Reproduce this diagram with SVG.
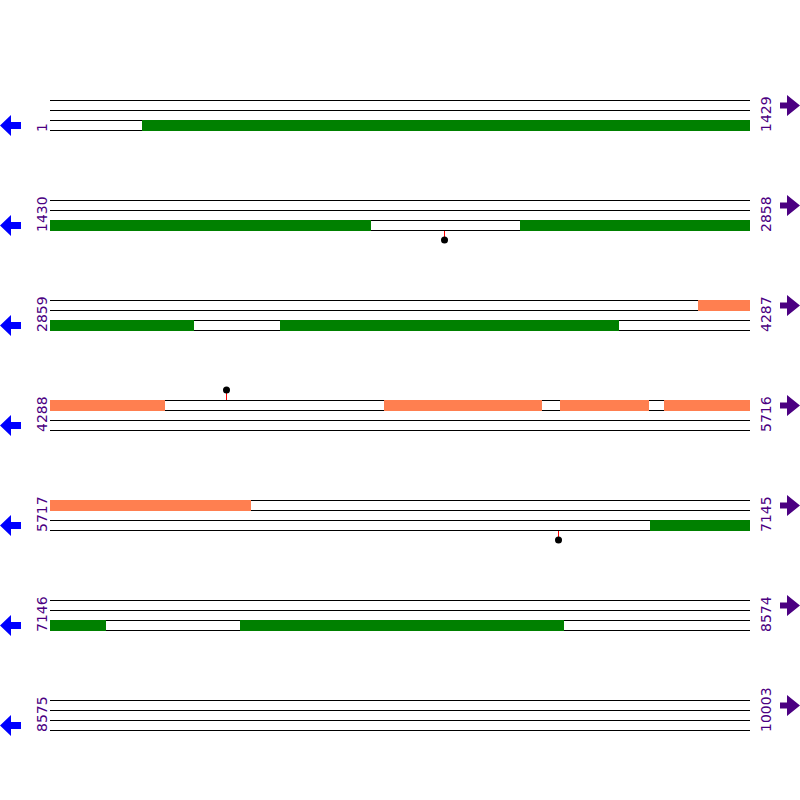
<svg xmlns="http://www.w3.org/2000/svg" width="800" height="800" viewBox="0 0 800 800">
<style>
.ln{stroke:#000;stroke-width:1;fill:none}
.g{fill:#008000}
.o{fill:#FF7F50}
.lbl{font-family:"DejaVu Sans",sans-serif;font-size:14px;fill:#4B0082}
.la{fill:#0000FF}
.ra{fill:#4B0082}
.stem{stroke:#FF0000;stroke-width:1}
</style>
<defs>
<g id="strands">
<line class="ln" x1="50" y1="0.5" x2="750" y2="0.5"/>
<line class="ln" x1="50" y1="10.5" x2="750" y2="10.5"/>
<line class="ln" x1="50" y1="20.5" x2="750" y2="20.5"/>
<line class="ln" x1="50" y1="30.5" x2="750" y2="30.5"/>
</g>
<polygon id="larrow" points="0,25.5 11,15 11,22 21,22 21,29 11,29 11,36"/>
<polygon id="rarrow" points="800,5.5 787,-5 787,2.5 780,2.5 780,8.5 787,8.5 787,16"/>
</defs>
<rect width="800" height="800" fill="#fff"/>

<g id="row1" transform="translate(0,100)">
<use href="#strands"/>
<rect class="g" x="142" y="20" width="608" height="11"/>
<use href="#larrow" class="la"/><use href="#rarrow" class="ra"/>
<text class="lbl" transform="translate(46.5,32) rotate(-90)">1</text>
<text class="lbl" transform="translate(770.5,32) rotate(-90)">1429</text>
</g>

<g id="row2" transform="translate(0,200)">
<use href="#strands"/>
<rect class="g" x="50" y="20" width="321" height="11"/>
<rect class="g" x="520" y="20" width="230" height="11"/>
<line class="stem" x1="444.5" y1="31" x2="444.5" y2="38"/>
<circle cx="444.5" cy="40" r="3.5" fill="#000"/>
<use href="#larrow" class="la"/><use href="#rarrow" class="ra"/>
<text class="lbl" transform="translate(46.5,32) rotate(-90)">1430</text>
<text class="lbl" transform="translate(770.5,32) rotate(-90)">2858</text>
</g>

<g id="row3" transform="translate(0,300)">
<use href="#strands"/>
<rect class="o" x="698" y="0" width="52" height="11"/>
<rect class="g" x="50" y="20" width="144" height="11"/>
<rect class="g" x="280" y="20" width="339" height="11"/>
<use href="#larrow" class="la"/><use href="#rarrow" class="ra"/>
<text class="lbl" transform="translate(46.5,32) rotate(-90)">2859</text>
<text class="lbl" transform="translate(770.5,32) rotate(-90)">4287</text>
</g>

<g id="row4" transform="translate(0,400)">
<use href="#strands"/>
<rect class="o" x="50" y="0" width="115" height="11"/>
<rect class="o" x="384" y="0" width="158" height="11"/>
<rect class="o" x="560" y="0" width="89" height="11"/>
<rect class="o" x="664" y="0" width="86" height="11"/>
<line class="stem" x1="226.5" y1="0" x2="226.5" y2="-8"/>
<circle cx="226.5" cy="-10" r="3.5" fill="#000"/>
<use href="#larrow" class="la"/><use href="#rarrow" class="ra"/>
<text class="lbl" transform="translate(46.5,32) rotate(-90)">4288</text>
<text class="lbl" transform="translate(770.5,32) rotate(-90)">5716</text>
</g>

<g id="row5" transform="translate(0,500)">
<use href="#strands"/>
<rect class="o" x="50" y="0" width="201" height="11"/>
<rect class="g" x="650" y="20" width="100" height="11"/>
<line class="stem" x1="558.5" y1="31" x2="558.5" y2="38"/>
<circle cx="558.5" cy="40" r="3.5" fill="#000"/>
<use href="#larrow" class="la"/><use href="#rarrow" class="ra"/>
<text class="lbl" transform="translate(46.5,32) rotate(-90)">5717</text>
<text class="lbl" transform="translate(770.5,32) rotate(-90)">7145</text>
</g>

<g id="row6" transform="translate(0,600)">
<use href="#strands"/>
<rect class="g" x="50" y="20" width="56" height="11"/>
<rect class="g" x="240" y="20" width="324" height="11"/>
<use href="#larrow" class="la"/><use href="#rarrow" class="ra"/>
<text class="lbl" transform="translate(46.5,32) rotate(-90)">7146</text>
<text class="lbl" transform="translate(770.5,32) rotate(-90)">8574</text>
</g>

<g id="row7" transform="translate(0,700)">
<use href="#strands"/>
<use href="#larrow" class="la"/><use href="#rarrow" class="ra"/>
<text class="lbl" transform="translate(46.5,32) rotate(-90)">8575</text>
<text class="lbl" transform="translate(770.5,32) rotate(-90)">10003</text>
</g>
</svg>
